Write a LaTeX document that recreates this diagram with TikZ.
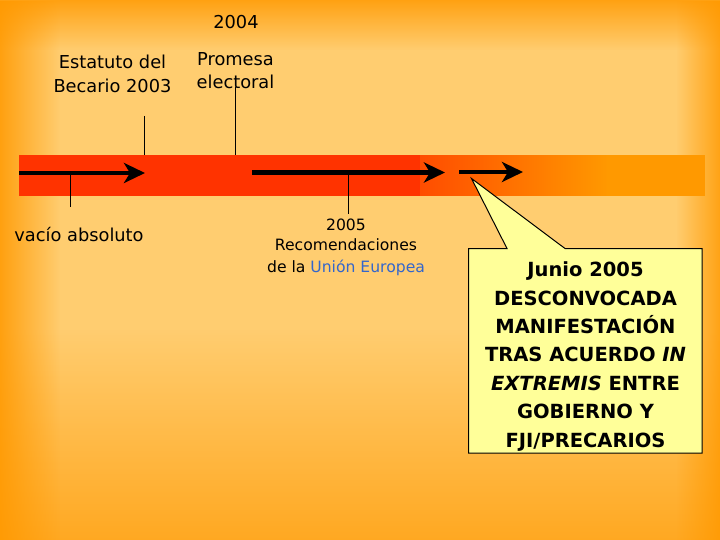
\documentclass[tikz,border=0pt]{standalone}
\usepackage{fontspec}
\setmainfont{DejaVu Sans}
\usetikzlibrary{arrows.meta,fadings}
\definecolor{bglight}{HTML}{FFCD70}
\definecolor{bgedge}{HTML}{FF9900}
\definecolor{barred}{HTML}{FF3300}
\definecolor{barorange}{HTML}{FF9900}
\definecolor{calloutfill}{HTML}{FFFF99}
\definecolor{eublue}{HTML}{3366CC}
\tikzfading[name=fadeleftedge, left color=transparent!0, right color=transparent!100]
\tikzfading[name=faderightedge, left color=transparent!100, right color=transparent!0]
\tikzfading[name=fadetopedge, top color=transparent!0, bottom color=transparent!100]
\tikzfading[name=fadebottomedge, top color=transparent!100, bottom color=transparent!0]
\tikzset{
  lbl/.style={inner sep=0pt, align=center, anchor=base, font=\fontsize{17.8}{23.7}\selectfont},
  smalllbl/.style={inner sep=0pt, align=center, anchor=base, font=\fontsize{15.6}{21}\selectfont},
  calltext/.style={inner sep=0pt, align=center, anchor=base, font=\bfseries\fontsize{19.5}{28.4}\selectfont},
  tick/.style={draw=black, line width=1.3pt},
  tlarrow/.style={draw=black, line width=4.2pt, -{Stealth[length=21pt,width=20pt,inset=6pt]}},
  callout/.style={fill=calloutfill, draw=black, line width=1pt, line join=miter}
}
\begin{document}
\begin{tikzpicture}[x=1pt,y=-1pt]
\useasboundingbox (0,0) rectangle (720,540);
% background
\fill[bglight] (0,0) rectangle (720,540);
\fill[bgedge, opacity=0.9, path fading=fadebottomedge] (0,330) rectangle (720,600);
\fill[bgedge, path fading=fadetopedge] (0,-10) rectangle (720,50);
\fill[bgedge, path fading=fadeleftedge] (-10,0) rectangle (60,540);
\fill[bgedge, path fading=faderightedge] (676,0) rectangle (730,540);
% timeline bar
\fill[barorange] (19,155) rectangle (705,196);
\fill[barred] (19,155) rectangle (420,196);
\fill[barred, path fading=fadeleftedge] (357,155) rectangle (607,196);
% coordinates
\coordinate (a1s) at (19,173);
\coordinate (a1e) at (145,173);
\coordinate (a2s) at (252,172.5);
\coordinate (a2e) at (445,172.5);
\coordinate (a3s) at (459,172);
\coordinate (a3e) at (523,172);
\coordinate (t1top) at (144.5,116);
\coordinate (t1bot) at (144.5,155);
\coordinate (t2top) at (235.5,87);
\coordinate (t2bot) at (235.5,155);
\coordinate (t3top) at (70.5,173);
\coordinate (t3bot) at (70.5,207);
\coordinate (t4top) at (348.5,173);
\coordinate (t4bot) at (348.5,214);
% labels
\node[lbl] (y2004) at (236,29) {2004};
\node[lbl] (estatuto) at (112.5,92.7) {Estatuto del\\Becario 2003};
\node[lbl] (promesa) at (235.5,89) {Promesa\\electoral};
\node[lbl] (vacio) at (79,241.5) {vacío absoluto};
\node[smalllbl] (recom) at (346,272) {2005\\Recomendaciones\\de la \textcolor{eublue}{Unión Europea}};
% ticks
\draw[tick] (t1top) -- (t1bot);
\draw[tick] (t2top) -- (t2bot);
\draw[tick] (t3top) -- (t3bot);
\draw[tick] (t4top) -- (t4bot);
% arrows
\draw[tlarrow] (a1s) -- (a1e);
\draw[tlarrow] (a2s) -- (a2e);
\draw[tlarrow] (a3s) -- (a3e);
% callout
\coordinate (ctip) at (471.5,178.5);
\draw[callout] (468.5,248.5) -- (507,248.5) -- (ctip) -- (565,248.5) -- (702,248.5) -- (702,453) -- (468.5,453) -- cycle;
\node[calltext] (junio) at (585.5,447) {Junio 2005\\DESCONVOCADA\\MANIFESTACIÓN\\TRAS ACUERDO \textit{IN}\\\textit{EXTREMIS} ENTRE\\GOBIERNO Y\\FJI/PRECARIOS};
\end{tikzpicture}
\end{document}
